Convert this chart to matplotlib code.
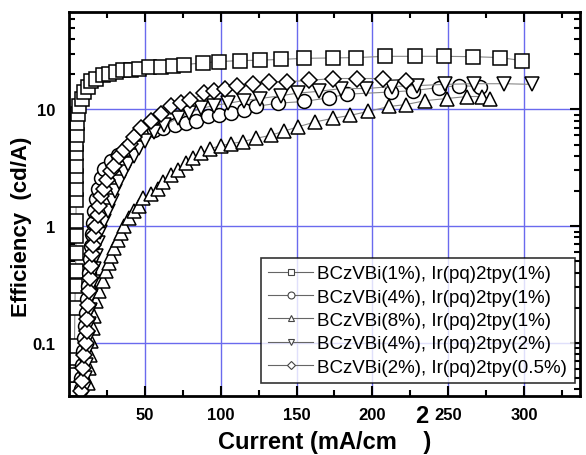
import numpy as np
import matplotlib.pyplot as plt
from matplotlib.ticker import FixedLocator, NullFormatter, LogLocator

plt.rcParams['font.family'] = ['Liberation Sans', 'DejaVu Sans']

# BCzVBi(1%), Ir(pq)2tpy(1%) - squares
sq_x = [3.0, 3.2, 3.3, 3.5, 3.8, 4.0, 4.2, 4.4, 4.5, 4.5, 4.6, 4.6, 4.6, 4.6, 4.7, 4.8,
        5.0, 5.3, 5.9, 6.6, 8.5, 9.9, 12.5, 14.5, 17.8, 22.4, 26.3, 31, 35.5, 40.8, 46,
        52.6, 60.5, 68.4, 75.7, 88, 99, 112.5, 125.7, 139.5, 155, 173.7, 189.5, 208.6,
        228, 247, 266.4, 284, 298.7]
sq_y = [0.04, 0.053, 0.074, 0.094, 0.2, 0.31, 0.41, 0.59, 0.82, 1.1, 1.67, 2.1, 2.67, 3.3,
        4.2, 5.1, 6.0, 7.6, 9.2, 10.8, 12.4, 14.2, 15.7, 17.4, 18.4, 19.6, 20.3, 21.1, 21.6,
        21.8, 22.2, 22.9, 23.3, 23.7, 24.2, 25.0, 25.7, 26.2, 26.4, 26.8, 27.4, 27.6, 27.8,
        28.5, 28.5, 28.5, 28.3, 27.8, 26.2]

# BCzVBi(4%), Ir(pq)2tpy(1%) - circles
ci_x = [7.5, 8.0, 8.6, 9.2, 9.8, 10.4, 11.0, 11.6, 12.2, 12.8, 13.5, 14.2, 15.0, 15.8,
        16.7, 17.7, 19, 21, 23, 27.6, 32, 37.5, 43, 49, 56, 62, 70, 77, 83.5, 91.4, 98.7,
        106.6, 115, 123, 137.5, 155, 171.5, 183, 212, 227, 244, 257, 271]
ci_y = [0.04, 0.05, 0.065, 0.085, 0.11, 0.14, 0.18, 0.24, 0.31, 0.4, 0.52, 0.67, 0.85,
        1.07, 1.35, 1.7, 2.1, 2.57, 3.1, 3.6, 4.05, 4.6, 5.3, 6.0, 6.6, 7.0, 7.4, 7.6, 8.0,
        8.7, 8.9, 9.4, 9.8, 10.6, 11.3, 11.7, 12.6, 13.5, 14.1, 14.5, 15.4, 16.0, 15.7]

# BCzVBi(8%), Ir(pq)2tpy(1%) - up triangles
tu_x = [12.5, 13.2, 13.5, 14.5, 15.8, 16.4, 17.8, 19.7, 22.4, 24.3, 26.3, 27.6, 29.6, 32,
        34, 36, 39.5, 42.8, 46, 49, 54, 58.5, 62, 67, 71.7, 77, 82, 87, 93, 100, 107,
        114.5, 123, 133, 141.4, 151, 162, 174, 185.5, 197, 211, 222, 235, 249, 262.5,
        272, 277.6]
tu_y = [0.045, 0.061, 0.079, 0.104, 0.134, 0.17, 0.23, 0.28, 0.34, 0.41, 0.48, 0.55, 0.65,
        0.76, 0.87, 1.0, 1.17, 1.34, 1.5, 1.74, 1.9, 2.1, 2.4, 2.73, 3.0, 3.45, 3.8, 4.2,
        4.6, 4.9, 5.1, 5.3, 5.65, 6.0, 6.5, 7.1, 7.8, 8.4, 8.9, 9.6, 10.6, 11.0, 11.9, 12.4,
        12.9, 12.9, 12.4]

# BCzVBi(4%), Ir(pq)2tpy(2%) - down triangles
td_x = [10, 10.6, 11.2, 11.8, 12.4, 13, 13.8, 14.6, 15.5, 16.5, 17.6, 19, 20.5, 23, 25.5,
        28, 30.5, 33, 36, 39, 42.5, 46, 50, 56, 62.5, 71.7, 79, 87, 95.4, 105, 115, 126,
        139.5, 151, 165, 179.6, 196, 213, 229.6, 248, 267, 287, 305]
td_y = [0.04, 0.05, 0.065, 0.085, 0.11, 0.145, 0.19, 0.25, 0.33, 0.43, 0.56, 0.72, 0.9,
        1.1, 1.35, 1.65, 2.0, 2.4, 2.9, 3.4, 4.0, 4.7, 5.4, 6.4, 7.3, 8.4, 9.3, 10.2, 10.8,
        11.3, 11.9, 12.4, 13.1, 13.8, 14.3, 15.1, 15.1, 15.7, 16.0, 16.4, 16.6, 16.6, 16.4]

# BCzVBi(2%), Ir(pq)2tpy(0.5%) - diamonds
di_x = [8.0, 8.5, 9.2, 10, 10.8, 11.5, 12, 12.6, 13.2, 13.8, 14.4, 15.2, 15.8, 16.5, 17.8,
        19, 20, 21, 23, 25, 27.6, 29.6, 33, 36, 40, 43, 47.4, 54, 60.5, 67, 73.7, 80, 89,
        95.4, 103, 111, 121, 131.6, 144, 158, 173.7, 190, 207, 222]
di_y = [0.039, 0.047, 0.061, 0.079, 0.1, 0.127, 0.16, 0.21, 0.28, 0.36, 0.46, 0.58, 0.69,
        0.84, 1.0, 1.24, 1.5, 1.8, 2.1, 2.5, 2.95, 3.3, 3.96, 4.5, 5.1, 5.8, 6.9, 8.0, 9.2,
        10.6, 11.3, 12.0, 13.7, 14.5, 15.1, 16.0, 16.6, 17.3, 17.3, 17.7, 18.4, 18.4, 18.4,
        17.5]

labels = ['BCzVBi(1%), Ir(pq)2tpy(1%)', 'BCzVBi(4%), Ir(pq)2tpy(1%)',
          'BCzVBi(8%), Ir(pq)2tpy(1%)', 'BCzVBi(4%), Ir(pq)2tpy(2%)',
          'BCzVBi(2%), Ir(pq)2tpy(0.5%)']
series = [(sq_x, sq_y, 's'), (ci_x, ci_y, 'o'), (tu_x, tu_y, '^'),
          (td_x, td_y, 'v'), (di_x, di_y, 'D')]

fig = plt.figure(figsize=(5.86, 4.56), dpi=100)
ax = fig.add_axes([0.118, 0.129, 0.872, 0.842])

handles = []
for (x, y, m), lab in zip(series, labels):
    ms = 8 if m == 'D' else 10
    ax.plot(x, y, color='#888888', lw=0.8, marker=m, ms=ms, mfc='white',
            mec='black', mew=1.1)
    h, = ax.plot([], [], color='#666666', lw=0.8, marker=m, ms=5 if m != 'D' else 4,
                 mfc='white', mec='#444444', mew=0.8, label=lab)
    handles.append(h)

ax.set_yscale('log')
ax.set_xlim(0, 337)
ax.set_ylim(0.035, 68)

ax.xaxis.set_major_locator(FixedLocator([50, 100, 150, 200, 250, 300]))
ax.xaxis.set_minor_locator(FixedLocator([25, 75, 125, 175, 225, 275, 325]))
ax.yaxis.set_major_locator(FixedLocator([0.1, 1, 10]))
ax.yaxis.set_minor_locator(LogLocator(base=10, subs=np.arange(2, 10)))
ax.yaxis.set_minor_formatter(NullFormatter())
ax.set_yticklabels(['0.1', '1', '10'])

ax.grid(True, which='major', color='#6a6aee', lw=1.0)
ax.set_axisbelow(True)
ax.tick_params(which='both', direction='in', top=True, right=True, width=1.5)
ax.tick_params(which='major', length=7, labelsize=12)
ax.tick_params(axis='x', which='major', pad=8)
ax.tick_params(axis='y', which='major', pad=10)
ax.tick_params(which='minor', length=4)
for lbl in ax.get_xticklabels() + ax.get_yticklabels():
    lbl.set_fontweight('bold')
for s in ax.spines.values():
    s.set_linewidth(2)

ax.set_ylabel('Efficiency  (cd/A)', fontsize=16, fontweight='bold')
ax.yaxis.set_label_coords(-0.072, 0.443)
ax.set_xlabel('Current (mA/cm    )', fontsize=17, fontweight='bold')
ax.xaxis.set_label_coords(0.5, -0.087)
fig.text(0.72, 0.087, '2', fontsize=17, fontweight='bold', ha='center', va='center')

leg = ax.legend(handles=handles, loc='lower right', fontsize=13.5, frameon=True,
                fancybox=False, edgecolor='black', handlelength=2.4,
                borderpad=0.4, labelspacing=0.33, handletextpad=0.2,
                borderaxespad=0, bbox_to_anchor=(0.989, 0.034))
leg.get_frame().set_linewidth(1.2)

fig.savefig('out.png', dpi=100)
